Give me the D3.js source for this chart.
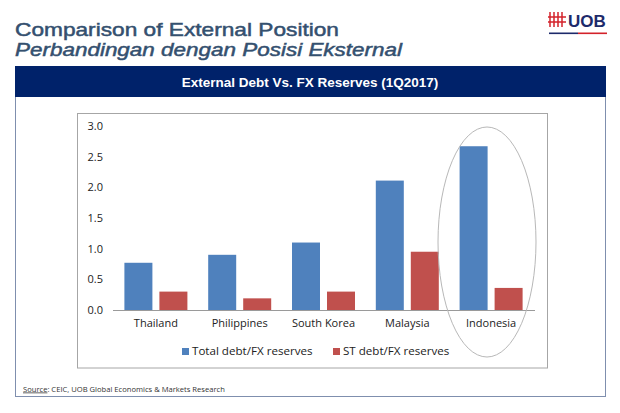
<!DOCTYPE html>
<html>
<head>
<meta charset="utf-8">
<script src="https://cdn.jsdelivr.net/npm/d3@7"></script>
<style>
  body { margin: 0; background: #fff; }
  svg { display: block; }
</style>
</head>
<body>
<div id="chart"></div>
<script>

var countries = ["Thailand", "Philippines", "South Korea", "Malaysia", "Indonesia"];
var series = ["Total debt/FX reserves", "ST debt/FX reserves"];
var totalDebt = [0.77, 0.90, 1.10, 2.11, 2.67];
var stDebt = [0.30, 0.19, 0.30, 0.95, 0.36];
var yTicks = [0, 0.5, 1.0, 1.5, 2.0, 2.5, 3.0];
var colors = ["#4f81bd", "#c0504d"];

var width = 620, height = 413;
var svg = d3.select("#chart")
    .append("svg")
    .attr("width", width)
    .attr("height", height);

// headings
svg.append("text")
    .attr("x", 15).attr("y", 36)
    .attr("font-family", "Liberation Sans, Arial, sans-serif")
    .attr("font-size", "19px")
    .attr("fill", "#34506f")
    .attr("stroke", "#34506f")
    .attr("stroke-width", 0.5)
    .attr("textLength", 324)
    .attr("lengthAdjust", "spacingAndGlyphs")
    .text("Comparison of External Position");

svg.append("text")
    .attr("x", 15).attr("y", 55.5)
    .attr("font-family", "Liberation Sans, Arial, sans-serif")
    .attr("font-size", "19px")
    .attr("font-style", "italic")
    .attr("fill", "#34506f")
    .attr("stroke", "#34506f")
    .attr("stroke-width", 0.5)
    .attr("textLength", 387)
    .attr("lengthAdjust", "spacingAndGlyphs")
    .text("Perbandingan dengan Posisi Eksternal");

// UOB logo
var logo = svg.append("g");
for (var i = 0; i < 4; i++) {
    logo.append("line")
        .attr("x1", 550 + i * 4).attr("x2", 550 + i * 4)
        .attr("y1", 12).attr("y2", 27)
        .attr("stroke", "#d3222a").attr("stroke-width", 1.5);
}
logo.append("line").attr("x1", 548).attr("x2", 566).attr("y1", 17).attr("y2", 17)
    .attr("stroke", "#d3222a").attr("stroke-width", 1.5);
logo.append("line").attr("x1", 548).attr("x2", 566).attr("y1", 22).attr("y2", 22)
    .attr("stroke", "#d3222a").attr("stroke-width", 1.5);
logo.append("text")
    .attr("x", 568).attr("y", 26.5)
    .attr("font-family", "Liberation Sans, Arial, sans-serif")
    .attr("font-size", "17px").attr("font-weight", "700")
    .attr("fill", "#1d2a6b")
    .text("UOB");
logo.append("rect").attr("x", 549).attr("y", 32.5).attr("width", 29).attr("height", 1.6).attr("fill", "#1d2a6b");
logo.append("rect").attr("x", 578).attr("y", 32.5).attr("width", 29).attr("height", 1.6).attr("fill", "#d3222a");

// outer frame + banner
svg.append("rect")
    .attr("x", 15.5).attr("y", 66.5)
    .attr("width", 590).attr("height", 330)
    .attr("fill", "#fff")
    .attr("stroke", "#7f8fae")
    .attr("stroke-width", 1);

svg.append("rect")
    .attr("x", 15).attr("y", 66)
    .attr("width", 591).attr("height", 31)
    .attr("fill", "#00226a");

svg.append("text")
    .attr("x", 310).attr("y", 86.5)
    .attr("text-anchor", "middle")
    .attr("font-family", "Liberation Sans, Arial, sans-serif")
    .attr("font-size", "13.5px").attr("font-weight", "700")
    .attr("fill", "#fff")
    .text("External Debt Vs. FX Reserves (1Q2017)");

// inner chart frame
svg.append("rect")
    .attr("x", 77.5).attr("y", 113.5)
    .attr("width", 470).attr("height", 254.5)
    .attr("fill", "#fff")
    .attr("stroke", "#a6a6a6")
    .attr("stroke-width", 1);

var y = d3.scaleLinear().domain([0, 3]).range([310, 126]);

var x0 = d3.scaleBand()
    .domain(countries)
    .range([114, 533]);

var x1 = d3.scaleBand()
    .domain(series)
    .range([0, 63])
    .paddingInner(0.2);

var groupOffset = (x0.bandwidth() - 63) / 2;

// y axis labels
var yAxis = d3.axisLeft(y)
    .tickValues(yTicks)
    .tickFormat(d3.format(".1f"))
    .tickSize(0)
    .tickPadding(0);

var yg = svg.append("g")
    .attr("transform", "translate(103,0)")
    .call(yAxis);
yg.select(".domain").remove();
yg.selectAll("text")
    .attr("font-family", "Open Sans, sans-serif")
    .attr("font-size", "11px")
    .attr("fill", "#222");

// bars
var rows = countries.map(function(c, i) {
    return { country: c, values: [totalDebt[i], stDebt[i]] };
});

var groups = svg.selectAll(".grp")
    .data(rows)
    .enter()
    .append("g")
    .attr("class", "grp")
    .attr("transform", function(d) { return "translate(" + (x0(d.country) + groupOffset) + ",0)"; });

groups.selectAll("rect")
    .data(function(d) { return d.values.map(function(v, j) { return { s: series[j], v: v, j: j }; }); })
    .enter()
    .append("rect")
    .attr("x", function(d) { return x1(d.s); })
    .attr("y", function(d) { return y(d.v); })
    .attr("width", x1.bandwidth())
    .attr("height", function(d) { return y(0) - y(d.v); })
    .attr("fill", function(d) { return colors[d.j]; });

// x axis
var xAxis = d3.axisBottom(x0).tickSize(0).tickPadding(9);
var xg = svg.append("g")
    .attr("transform", "translate(0,310)")
    .call(xAxis);
xg.select(".domain").attr("stroke", "#9a9a9a").attr("d", "M113,0.5H535");
xg.selectAll("text")
    .attr("font-family", "Open Sans, sans-serif")
    .attr("font-size", "11px")
    .attr("fill", "#222");

// circle around Indonesia
svg.append("ellipse")
    .attr("cx", 487).attr("cy", 242)
    .attr("rx", 49).attr("ry", 115)
    .attr("fill", "none")
    .attr("stroke", "#b8b8b8")
    .attr("stroke-width", 1);

// legend
var legendX = [182, 333];
var legend = svg.selectAll(".leg")
    .data(series)
    .enter()
    .append("g")
    .attr("class", "leg")
    .attr("transform", function(d, i) { return "translate(" + legendX[i] + ",348)"; });
legend.append("rect")
    .attr("width", 7).attr("height", 7)
    .attr("fill", function(d, i) { return colors[i]; });
legend.append("text")
    .attr("x", 10).attr("y", 7)
    .attr("font-family", "Open Sans, sans-serif")
    .attr("font-size", "11.6px")
    .attr("fill", "#222")
    .text(function(d) { return d; });

// source
var src = svg.append("text")
    .attr("x", 23).attr("y", 391.5)
    .attr("font-family", "Open Sans, sans-serif")
    .attr("font-size", "7.6px")
    .attr("fill", "#333");
src.append("tspan").attr("text-decoration", "underline").text("Source");
src.append("tspan").text(": CEIC, UOB Global Economics & Markets Research");

</script>
</body>
</html>
